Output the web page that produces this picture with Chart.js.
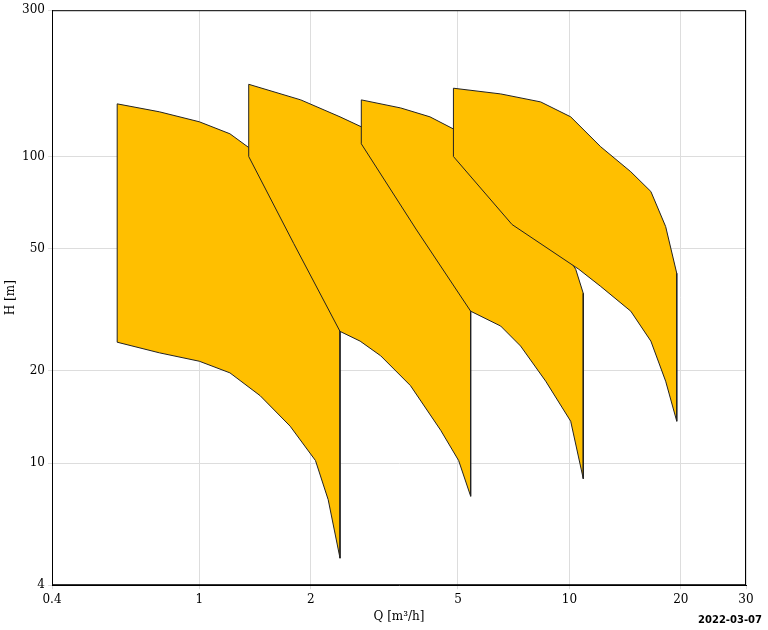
<!DOCTYPE html>
<html><head><meta charset="utf-8">
<script src="https://cdn.jsdelivr.net/npm/chart.js@4/dist/chart.umd.min.js"></script>
<style>body{margin:0;background:#fff}#w{position:relative;width:768px;height:630px}
#d{position:absolute;right:6px;bottom:5px;font:bold 10px "DejaVu Sans",sans-serif}</style>
</head><body><div id="w"><canvas id="c" width="768" height="630"></canvas><div id="d">2022-03-07</div></div>
<script>
// Pump ranges: top curve (left->right), then lower boundary (right->left)
const q1=[0.6,0.78,1.0,1.21,1.36,1.56,1.88,2.06,2.26,2.4, 2.4,2.23,2.06,1.76,1.46,1.21,1.0,0.78,0.6];
const h1=[148.5,139.9,129.8,118.6,107,92.7,68.7,59.1,45.5,29.0, 4.9,7.6,10.2,13.2,16.6,19.7,21.5,22.9,24.8];
const q2=[1.36,1.88,2.4,2.74,3.29,3.96,4.63,5.08,5.41, 5.41,5.02,4.49,3.72,3.09,2.72,2.4,1.8,1.36];
const h2=[172,153,134.7,125,103.7,82.8,63.7,50.9,39.2, 7.8,10.2,12.8,17.9,22.4,25.0,26.9,52,100];
const q3=[2.74,3.5,4.2,4.86,5.76,6.94,8.36,9.48,10.4,10.9, 10.9,10.08,8.63,7.38,6.52,5.41,3.85,2.74];
const h3=[153,144,134.7,123,103.7,82.8,63.7,50.9,42.9,35.8, 8.9,13.7,18.5,24.1,28.0,31.3,58,110];
const q4=[4.86,6.52,8.36,10.08,12.15,14.65,16.6,18.2,19.5, 19.5,18.2,16.6,14.65,12.15,10.6,7.0,4.86];
const h4=[167,160,150.7,134.7,107.6,89.2,76.9,59.1,41.6, 13.7,18.5,25.0,31.3,37.7,42.9,60,100];
const xTicks=[0.4,1,2,5,10,20,30];
const yTicks=[4,10,20,50,100,300];
const shapes=[[q1,h1],[q2,h2],[q3,h3],[q4,h4]];
const datasets=shapes.map(([q,h],i)=>{const pts=q.map((x,j)=>({x,y:h[j]}));pts.push(pts[0]);
 return {data:pts,showLine:true,fill:'shape',backgroundColor:'#FFBF00',borderColor:'#222',borderWidth:1,pointRadius:0,tension:0,order:4-i};});
const F={family:'"DejaVu Serif","Liberation Serif",serif',size:12};
new Chart(document.getElementById('c'),{type:'scatter',data:{datasets},
options:{responsive:false,animation:false,layout:{padding:{top:8,right:22,left:0,bottom:2}},
plugins:{legend:{display:false},tooltip:{enabled:false}},
scales:{
x:{type:'logarithmic',min:0.4,max:30,afterBuildTicks:a=>{a.ticks=xTicks.map(v=>({value:v}))},
 ticks:{callback:v=>String(v),color:'#000',font:F,maxRotation:0,autoSkip:false},
 grid:{color:'#ddd',tickLength:4},border:{color:'#000'},
 title:{display:true,text:'Q [m³/h]',color:'#000',font:F,padding:{top:0}}},
y:{type:'logarithmic',min:4,max:300,afterBuildTicks:a=>{a.ticks=yTicks.map(v=>({value:v}))},
 afterFit:a=>{a.width=52},
 ticks:{callback:v=>String(v),color:'#000',font:F,autoSkip:false},
 grid:{color:'#ddd',tickLength:4},border:{color:'#000'},
 title:{display:true,text:'H [m]',color:'#000',font:F,padding:{bottom:2}}}}},
plugins:[{id:'frame',afterDraw(c){const a=c.chartArea,x=c.ctx;x.save();x.strokeStyle='#000';x.lineWidth=1;x.strokeRect(a.left+0.5,a.top+0.5,a.width-1,a.height-1);x.restore();}}]
});
</script></body></html>
